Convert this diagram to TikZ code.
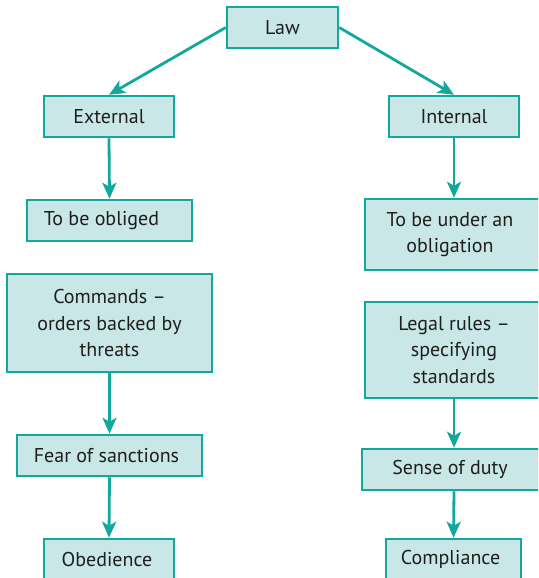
\documentclass[tikz,border=0pt]{standalone}
\usepackage{fontspec}
\setmainfont{PT Sans}
\usetikzlibrary{arrows.meta}
\definecolor{tealline}{HTML}{12A89D}
\definecolor{tealfill}{HTML}{C9E7E6}
\definecolor{ink}{HTML}{1E1E1E}
\begin{document}
\begin{tikzpicture}[x=1pt,y=-1pt,
  box/.style={draw=tealline, fill=tealfill, line width=2.5pt, rectangle, inner sep=0pt,
    text=ink, font=\fontsize{20}{26.5}\selectfont, align=center},
  arr/.style={draw=tealline, line width=2.8pt, -{Stealth[length=16pt,width=14pt,inset=4pt]}}]
\useasboundingbox (0,0) rectangle (538,578);
\clip (0,0) rectangle (538,578);
\node[box, minimum width=111pt, minimum height=41pt] (law) at (282.5,27.5) {Law};
\node[box, minimum width=130pt, minimum height=41pt] (ext) at (109,116.5) {External};
\node[box, minimum width=130pt, minimum height=41pt] (int) at (454,116.5) {Internal};
\node[box, minimum width=165pt, minimum height=41pt] (oblig) at (109.5,220.5) {To be obliged\hspace*{16pt}};
\node[box, minimum width=178pt, minimum height=71pt] (under) at (454,234.5) {To be under an\hspace*{8pt}\\obligation\hspace*{8pt}};
\node[box, minimum width=205pt, minimum height=98pt] (cmd) at (109.5,323) {Commands –\\orders backed by\\threats};
\node[box, minimum width=178pt, minimum height=96pt] (legal) at (454,350) {Legal rules –\\specifying\\standards};
\node[box, minimum width=185pt, minimum height=41pt] (fear) at (109.5,455.5) {Fear of sanctions\hspace*{6pt}};
\node[box, minimum width=184pt, minimum height=41pt] (duty) at (454,469.5) {Sense of duty\hspace*{8pt}};
\node[box, minimum width=130pt, minimum height=41pt] (obed) at (109,559.5) {Obedience\hspace*{4pt}};
\node[box, minimum width=135pt, minimum height=41pt] (compl) at (453.5,559.5) {Compliance\hspace*{6pt}};
\draw[arr] (law.west) -- (ext.north);
\draw[arr] (law.east) -- (int.north);
\draw[arr] (ext.south) -- (oblig.north);
\draw[arr] (int.south) -- (under.north);
\draw[arr] (cmd.south) -- (fear.north);
\draw[arr] (fear.south) -- (obed.north);
\draw[arr] (legal.south) -- (duty.north);
\draw[arr] (duty.south) -- (compl.north);
\end{tikzpicture}
\end{document}
